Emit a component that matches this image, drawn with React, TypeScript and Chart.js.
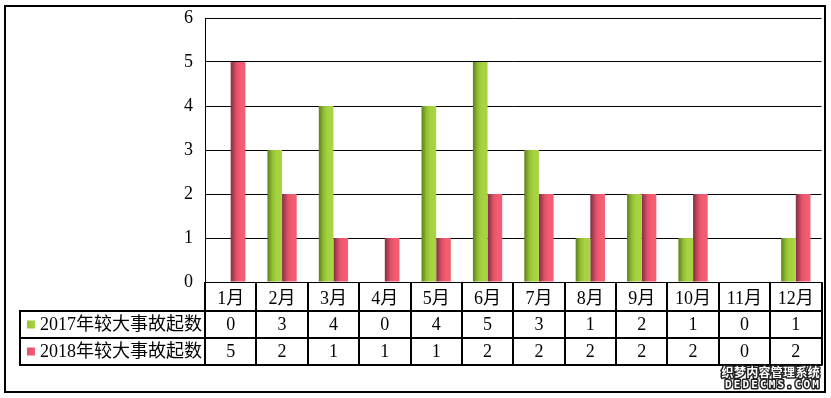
import React, { useEffect, useRef } from "react";
import { Chart, registerables } from "chart.js";

Chart.register(...registerables);

// ---- data ----
const months = ["1月", "2月", "3月", "4月", "5月", "6月", "7月", "8月", "9月", "10月", "11月", "12月"];
const label2017 = "2017年较大事故起数";
const label2018 = "2018年较大事故起数";
const values2017 = [0, 3, 4, 0, 4, 5, 3, 1, 2, 1, 0, 1];
const values2018 = [5, 2, 1, 1, 1, 2, 2, 2, 2, 2, 0, 2];
const yMin = 0;
const yMax = 6;
const yStep = 1;
const watermarkCn = "织梦内容管理系统";
const watermarkEn = "DEDECMS.COM";

const W = 831;
const H = 398;
const FONT = '"Liberation Serif", "Noto Sans CJK SC", serif';
const CAT_PCT = 0.57;

const greenStops: [number, string][] = [
  [0, "#5f7f1c"],
  [0.35, "#93c136"],
  [0.6, "#a6d23f"],
  [1, "#a9d444"],
];
const redStops: [number, string][] = [
  [0, "#7e2f3f"],
  [0.4, "#e0526a"],
  [0.65, "#f25b70"],
  [1, "#f45e72"],
];

function makeGradient(ctx: any, stops: [number, string][]) {
  const chart = ctx.chart;
  const xs = chart.scales && chart.scales.x;
  if (!chart.chartArea || !xs || ctx.dataIndex === undefined) return stops[2][1];
  const center = xs.getPixelForValue(ctx.dataIndex);
  const catW = xs.width / months.length;
  const barW = (catW * CAT_PCT) / 2;
  const left = ctx.datasetIndex === 0 ? center - barW : center;
  const g = chart.ctx.createLinearGradient(left, 0, left + barW, 0);
  stops.forEach(([o, c]) => g.addColorStop(o, c));
  return g;
}

const tablePlugin = {
  id: "dataTable",
  afterDraw(chart: any) {
    const ctx = chart.ctx as CanvasRenderingContext2D;
    const { left, right, bottom } = chart.chartArea;
    const xs = chart.scales.x;
    const n = months.length;
    const catW = (right - left) / n;
    const legendLeft = 20;
    const r1 = bottom + 29;
    const r2 = r1 + 27;
    const r3 = r2 + 27;

    ctx.save();
    ctx.strokeStyle = "#000";
    ctx.lineWidth = 2;
    ctx.beginPath();
    [r1, r2, r3].forEach((y) => {
      ctx.moveTo(legendLeft - 1, y);
      ctx.lineTo(right + 1, y);
    });
    ctx.moveTo(legendLeft, r1);
    ctx.lineTo(legendLeft, r3);
    ctx.moveTo(left, bottom);
    ctx.lineTo(left, r3);
    for (let i = 1; i <= n; i++) {
      const x = Math.round(left + i * catW);
      ctx.moveTo(x, bottom);
      ctx.lineTo(x, r3);
    }
    ctx.stroke();

    ctx.fillStyle = "#000";
    ctx.font = `18px ${FONT}`;
    ctx.textAlign = "center";
    ctx.textBaseline = "middle";
    for (let i = 0; i < n; i++) {
      const cx = xs.getPixelForValue(i);
      ctx.fillText(String(values2017[i]), cx, (r1 + r2) / 2 + 1);
      ctx.fillText(String(values2018[i]), cx, (r2 + r3) / 2 + 1);
    }

    const key = (y: number, stops: [number, string][], text: string) => {
      const g = ctx.createLinearGradient(27, 0, 35, 0);
      g.addColorStop(0, stops[1][1]);
      g.addColorStop(1, stops[3][1]);
      ctx.fillStyle = g;
      ctx.fillRect(27, y - 4, 8, 8);
      ctx.fillStyle = "#000";
      ctx.textAlign = "left";
      ctx.fillText(text, 40, y + 1);
    };
    key((r1 + r2) / 2, greenStops, label2017);
    key((r2 + r3) / 2, redStops, label2018);

    ctx.lineWidth = 2;
    ctx.strokeRect(5, 6, 820, 386);

    ctx.textAlign = "right";
    ctx.textBaseline = "middle";
    ctx.lineJoin = "round";
    ctx.font = `bold 12px "Noto Sans CJK SC", sans-serif`;
    ctx.strokeStyle = "#222";
    ctx.lineWidth = 3;
    (ctx as any).letterSpacing = "0.3px";
    ctx.strokeText(watermarkCn, 820, 372);
    ctx.fillStyle = "#fff";
    ctx.fillText(watermarkCn, 820, 372);
    ctx.font = `bold 11px "DejaVu Sans Mono", monospace`;
    (ctx as any).letterSpacing = "2.1px";
    ctx.strokeText(watermarkEn, 821, 385.5);
    ctx.fillText(watermarkEn, 821, 385.5);
    ctx.restore();
  },
};

export default function App() {
  const ref = useRef<HTMLCanvasElement | null>(null);
  useEffect(() => {
    if (!ref.current) return;
    const chart = new Chart(ref.current, {
      type: "bar",
      data: {
        labels: months,
        datasets: [
          {
            label: label2017,
            data: values2017,
            backgroundColor: (c: any) => makeGradient(c, greenStops),
            borderWidth: 0,
            categoryPercentage: CAT_PCT,
            barPercentage: 1,
          },
          {
            label: label2018,
            data: values2018,
            backgroundColor: (c: any) => makeGradient(c, redStops),
            borderWidth: 0,
            categoryPercentage: CAT_PCT,
            barPercentage: 1,
          },
        ],
      },
      options: {
        animation: false,
        responsive: false,
        devicePixelRatio: 1,
        layout: { padding: { left: 0, top: 18, right: 9.5, bottom: 87 } },
        plugins: {
          legend: { display: false },
          tooltip: { enabled: false },
          title: { display: false },
        },
        scales: {
          x: {
            grid: { display: false, drawTicks: false },
            border: { display: true, color: "#000", width: 1 },
            ticks: {
              color: "#000",
              font: { family: FONT, size: 18 },
              padding: 6,
              maxRotation: 0,
              autoSkip: false,
            },
            afterFit: (s: any) => {
              s.height = 29;
              s.paddingLeft = 0;
              s.paddingRight = 0;
            },
          },
          y: {
            min: yMin,
            max: yMax,
            grid: { color: "#000", lineWidth: 1, drawTicks: false },
            border: { display: true, color: "#000", width: 1 },
            ticks: {
              stepSize: yStep,
              color: "#000",
              font: { family: FONT, size: 18 },
              padding: 12,
            },
            afterFit: (s: any) => {
              s.width = 205;
              s.paddingTop = 0;
              s.paddingBottom = 0;
            },
          },
        },
      },
      plugins: [tablePlugin],
    });
    return () => chart.destroy();
  }, []);
  return (
    <div style={{ position: "fixed", left: 0, top: 0, width: W, height: H, background: "#fff" }}>
      <canvas ref={ref} width={W} height={H} style={{ width: W, height: H, display: "block" }} />
    </div>
  );
}
